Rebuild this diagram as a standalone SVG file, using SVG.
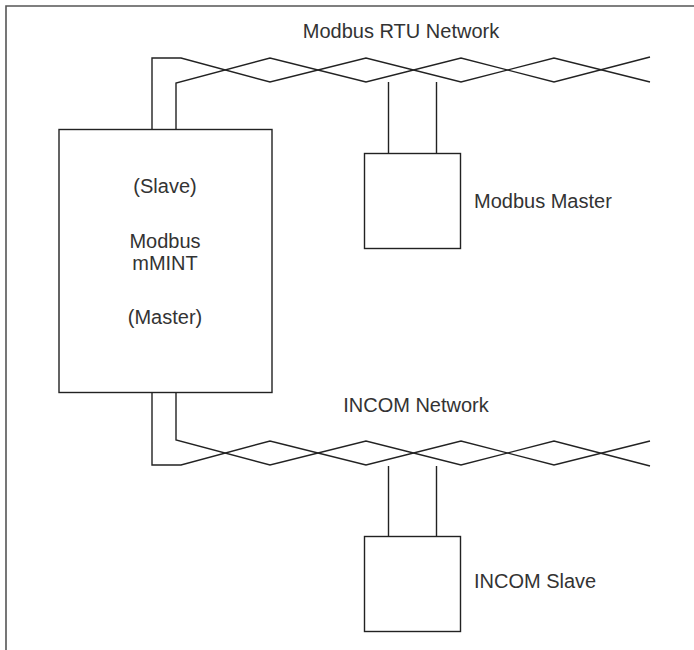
<svg xmlns="http://www.w3.org/2000/svg" width="694" height="650" viewBox="0 0 694 650">
<style>
.frame{fill:none;stroke:#555;stroke-width:1.6}
.box{fill:#fff;stroke:#222;stroke-width:1.4}
.wire{fill:none;stroke:#222;stroke-width:1.4;stroke-linejoin:miter}
text{font-family:"Liberation Sans",Arial,sans-serif;font-size:20px;fill:#333}
.c{text-anchor:middle}
</style>
<rect width="694" height="650" fill="#fff"/>
<path class="frame" d="M6,650 V6 H694"/>
<g id="connectors">
<path class="wire" d="M152,129 V58 H181 L270,82 L366,58 L461,82 L554,58 L650,82"/>
<path class="wire" d="M176,129 V83 L270,58 L366,82 L461,58 L554,82 L650,57"/>
<path class="wire" d="M388.5,82 V153 M436.5,82 V153"/>
<path class="wire" d="M152,392 V465 H181 L270,441 L366,465 L461,441 L554,465 L650,441"/>
<path class="wire" d="M176,392 V440 L270,465 L366,441 L461,465 L554,441 L650,466"/>
<path class="wire" d="M388.5,466 V536 M436.5,466 V536"/>
</g>
<g id="modbus-network-label"><text x="401" y="38" class="c">Modbus RTU Network</text></g>
<g id="incom-network-label"><text x="416" y="412" class="c">INCOM Network</text></g>
<g id="mmint">
<rect class="box" x="59" y="129.5" width="213" height="263"/>
<text x="165" y="193" class="c">(Slave)</text>
<text x="165" y="248" class="c">Modbus</text>
<text x="165" y="270" class="c">mMINT</text>
<text x="165" y="324" class="c">(Master)</text>
</g>
<g id="modbus-master">
<rect class="box" x="364.5" y="153.5" width="96" height="95"/>
<text x="474" y="208">Modbus Master</text>
</g>
<g id="incom-slave">
<rect class="box" x="364.5" y="536.5" width="96" height="95"/>
<text x="474" y="588">INCOM Slave</text>
</g>
</svg>
